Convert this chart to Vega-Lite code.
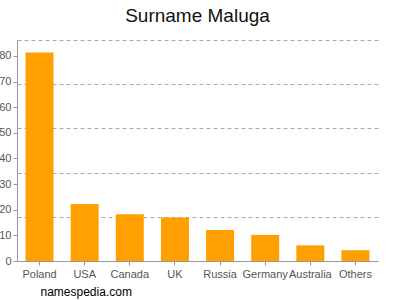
{
  "$schema": "https://vega.github.io/schema/vega-lite/v6.json",
  "autosize": "none",
  "width": 361,
  "height": 221,
  "padding": {"left": 17, "top": 40, "right": 22, "bottom": 39},
  "background": "white",
  "title": {
    "text": "Surname Maluga",
    "font": "Liberation Sans",
    "fontSize": 19,
    "fontWeight": "normal",
    "color": "#111",
    "anchor": "middle",
    "baseline": "bottom",
    "offset": -5
  },
  "data": {
    "values": [
      {"country": "Poland", "count": 81.3},
      {"country": "USA", "count": 22.2},
      {"country": "Canada", "count": 18.2},
      {"country": "UK", "count": 17.0},
      {"country": "Russia", "count": 12.1},
      {"country": "Germany", "count": 10.1},
      {"country": "Australia", "count": 6.1},
      {"country": "Others", "count": 4.2}
    ]
  },
  "config": {
    "view": {"stroke": null},
    "axis": {
      "labelFont": "Liberation Sans",
      "labelFontSize": 11,
      "labelColor": "#555",
      "domainColor": "#999",
      "tickColor": "#999",
      "tickSize": 4
    }
  },
  "layer": [
    {
      "mark": {"type": "bar", "color": "#FFA000"},
      "encoding": {
        "x": {
          "field": "country",
          "type": "nominal",
          "sort": null,
          "scale": {"paddingInner": 0.38, "paddingOuter": 0.19},
          "axis": {
            "labelAngle": 0,
            "labelPadding": 3,
            "title": "namespedia.com",
            "titleFont": "Liberation Sans",
            "titleFontSize": 12,
            "titleFontWeight": "normal",
            "titleColor": "#000",
            "titleAnchor": null,
            "titleAlign": "left",
            "titleBaseline": "alphabetic",
            "titleX": 23,
            "titleY": 34
          }
        },
        "y": {
          "field": "count",
          "type": "quantitative",
          "scale": {"domain": [0, 86.2], "nice": false},
          "axis": {
            "values": [0, 10, 20, 30, 40, 50, 60, 70, 80],
            "grid": false,
            "title": null,
            "labelPadding": 2
          }
        }
      }
    },
    {
      "mark": {"type": "bar", "opacity": 0},
      "encoding": {
        "x": {"field": "country", "type": "nominal", "sort": null},
        "y": {
          "field": "count",
          "type": "quantitative",
          "axis": {
            "orient": "right",
            "values": [17.24, 34.48, 51.72, 68.96, 86.2],
            "grid": true,
            "gridColor": "#aaa",
            "gridDash": [4, 3],
            "gridWidth": 1,
            "labels": false,
            "ticks": false,
            "domain": false,
            "title": null
          }
        }
      }
    }
  ],
  "resolve": {"axis": {"y": "independent"}}
}
